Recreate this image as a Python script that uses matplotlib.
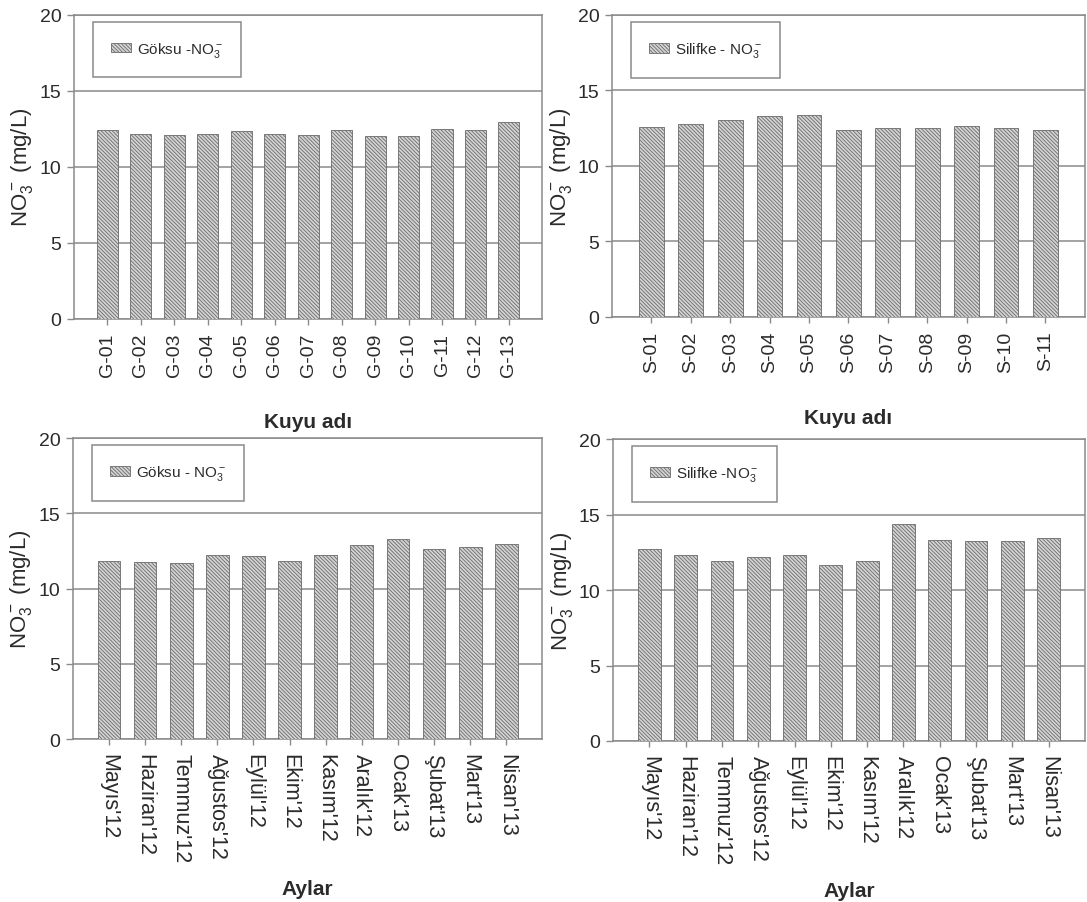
import matplotlib
matplotlib.use("Agg")
import matplotlib.pyplot as plt
from matplotlib import font_manager

# kuyu bazinda ortalama nitrat
goksu_kuyu = ["G-01", "G-02", "G-03", "G-04", "G-05", "G-06", "G-07",
              "G-08", "G-09", "G-10", "G-11", "G-12", "G-13"]
goksu_kuyu_no3 = [12.39, 12.13, 12.08, 12.13, 12.32, 12.15, 12.08,
                  12.39, 12.04, 12.04, 12.46, 12.39, 12.92]

silifke_kuyu = ["S-01", "S-02", "S-03", "S-04", "S-05", "S-06",
                "S-07", "S-08", "S-09", "S-10", "S-11"]
silifke_kuyu_no3 = [12.57, 12.75, 13.03, 13.30, 13.34, 12.35,
                    12.48, 12.52, 12.66, 12.52, 12.35]

# ay bazinda ortalama nitrat
aylar = ["Mayıs'12", "Haziran'12", "Temmuz'12", "Ağustos'12", "Eylül'12",
         "Ekim'12", "Kasım'12", "Aralık'12", "Ocak'13", "Şubat'13",
         "Mart'13", "Nisan'13"]
goksu_ay_no3 = [11.82, 11.73, 11.71, 12.22, 12.13, 11.82,
                12.22, 12.88, 13.26, 12.64, 12.77, 12.95]
silifke_ay_no3 = [12.69, 12.33, 11.93, 12.20, 12.31, 11.65,
                  11.91, 14.36, 13.28, 13.24, 13.22, 13.44]

installed = {f.name for f in font_manager.fontManager.ttflist}
fam = [f for f in ["Liberation Sans Narrow", "Liberation Sans", "DejaVu Sans"] if f in installed]
plt.rcParams['font.family'] = fam
plt.rcParams['hatch.linewidth'] = 0.6
plt.rcParams['mathtext.fontset'] = 'custom'
plt.rcParams['mathtext.rm'] = fam[0]
plt.rcParams['mathtext.it'] = fam[0]

txt = '#2b2b2b'
grid_c = '#8a8a8a'
ylab = r'NO$_3^-$ (mg/L)'

fig = plt.figure(figsize=(10.87, 9.03), dpi=100)


def panel(rect, labels, values, legend_txt, xlabel, rot, xlabelpad, xsize):
    ax = fig.add_axes(rect)
    x = list(range(len(labels)))
    ax.bar(x, values, width=0.63, color='#d4d4d4', edgecolor='#6a6a6a',
           linewidth=0.6, hatch='\\' * 9, label=legend_txt, zorder=3)
    ax.set_xlim(-1, len(labels))
    ax.set_ylim(0, 20)
    ax.set_yticks([0, 5, 10, 15, 20])
    ax.yaxis.grid(True, color=grid_c, linewidth=1.1, zorder=0)
    ax.set_axisbelow(True)
    for s in ax.spines.values():
        s.set_color(grid_c)
        s.set_linewidth(1.1)
    ax.set_xticks(x)
    ax.set_xticklabels(labels, rotation=rot, va='top', ha='center')
    ax.tick_params(axis='both', colors=grid_c, labelcolor=txt, labelsize=14,
                   length=5, width=1.0, pad=4)
    ax.tick_params(axis='x', length=4, pad=6, labelsize=xsize)
    ax.set_ylabel(ylab, fontsize=16, color=txt, labelpad=3)
    ax.set_xlabel(xlabel, fontsize=15, fontweight='bold', color=txt, labelpad=xlabelpad)
    leg = ax.legend(loc='upper left', bbox_to_anchor=(0.04, 0.977), fontsize=11,
                    frameon=True, fancybox=False, framealpha=1, edgecolor=grid_c,
                    borderpad=1.2, borderaxespad=0, handlelength=1.3,
                    handleheight=0.6, handletextpad=0.4, labelcolor=txt)
    leg.get_frame().set_linewidth(1.1)
    return ax


panel([0.068, 0.646, 0.431, 0.3367], goksu_kuyu, goksu_kuyu_no3,
      r'Göksu -NO$_3^-$', 'Kuyu adı', 90, 26, 14)
panel([0.563, 0.648, 0.435, 0.3344], silifke_kuyu, silifke_kuyu_no3,
      r'Silifke - NO$_3^-$', 'Kuyu adı', 90, 26, 14)
panel([0.067, 0.1805, 0.432, 0.3333], aylar, goksu_ay_no3,
      r'Göksu - NO$_3^-$', 'Aylar', -90, 12, 15.5)
panel([0.564, 0.1783, 0.434, 0.3344], aylar, silifke_ay_no3,
      r'Silifke -NO$_3^-$', 'Aylar', -90, 12, 15.5)

fig.savefig('out.png', dpi=100)
